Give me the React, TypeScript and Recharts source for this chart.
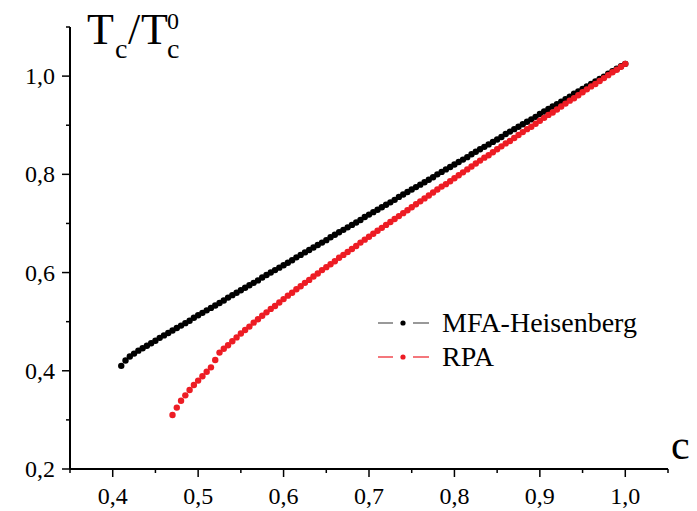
import { ScatterChart, Scatter, XAxis, YAxis, Legend } from "recharts"

const concentration = [
  0.41, 0.415, 0.42, 0.425, 0.43, 0.435, 0.44, 0.445, 0.45, 0.455,
  0.46, 0.465, 0.47, 0.475, 0.48, 0.485, 0.49, 0.495, 0.5, 0.505,
  0.51, 0.515, 0.52, 0.525, 0.53, 0.535, 0.54, 0.545, 0.55, 0.555,
  0.56, 0.565, 0.57, 0.575, 0.58, 0.585, 0.59, 0.595, 0.6, 0.605,
  0.61, 0.615, 0.62, 0.625, 0.63, 0.635, 0.64, 0.645, 0.65, 0.655,
  0.66, 0.665, 0.67, 0.675, 0.68, 0.685, 0.69, 0.695, 0.7, 0.705,
  0.71, 0.715, 0.72, 0.725, 0.73, 0.735, 0.74, 0.745, 0.75, 0.755,
  0.76, 0.765, 0.77, 0.775, 0.78, 0.785, 0.79, 0.795, 0.8, 0.805,
  0.81, 0.815, 0.82, 0.825, 0.83, 0.835, 0.84, 0.845, 0.85, 0.855,
  0.86, 0.865, 0.87, 0.875, 0.88, 0.885, 0.89, 0.895, 0.9, 0.905,
  0.91, 0.915, 0.92, 0.925, 0.93, 0.935, 0.94, 0.945, 0.95, 0.955,
  0.96, 0.965, 0.97, 0.975, 0.98, 0.985, 0.99, 0.995, 1.0,
]

// MFA-Heisenberg, starts at c = 0.41
const tcMfa = [
  0.410, 0.421, 0.429, 0.435, 0.441, 0.446, 0.451, 0.456, 0.461, 0.467,
  0.472, 0.477, 0.482, 0.487, 0.492, 0.497, 0.502, 0.508, 0.513, 0.518,
  0.523, 0.528, 0.533, 0.538, 0.543, 0.549, 0.554, 0.559, 0.564, 0.569,
  0.574, 0.579, 0.584, 0.590, 0.595, 0.600, 0.605, 0.610, 0.615, 0.620,
  0.625, 0.631, 0.636, 0.641, 0.646, 0.651, 0.656, 0.661, 0.666, 0.672,
  0.677, 0.682, 0.687, 0.692, 0.697, 0.702, 0.707, 0.713, 0.718, 0.723,
  0.728, 0.733, 0.738, 0.743, 0.748, 0.754, 0.759, 0.764, 0.769, 0.774,
  0.779, 0.784, 0.789, 0.794, 0.800, 0.805, 0.810, 0.815, 0.820, 0.825,
  0.830, 0.835, 0.841, 0.846, 0.851, 0.856, 0.861, 0.866, 0.871, 0.876,
  0.882, 0.887, 0.892, 0.897, 0.902, 0.907, 0.912, 0.917, 0.923, 0.928,
  0.933, 0.938, 0.943, 0.948, 0.953, 0.958, 0.964, 0.969, 0.974, 0.979,
  0.984, 0.989, 0.994, 0.999, 1.005, 1.010, 1.015, 1.020, 1.025,
]

// RPA, starts at c = 0.47
const tcRpa = [
  0.310, 0.325, 0.339, 0.350, 0.361, 0.371, 0.380, 0.389,
  0.398, 0.407, 0.422, 0.437, 0.445, 0.452, 0.460, 0.468, 0.476, 0.483,
  0.490, 0.498, 0.505, 0.512, 0.519, 0.526, 0.532, 0.539, 0.546, 0.553,
  0.559, 0.566, 0.572, 0.579, 0.585, 0.592, 0.598, 0.605, 0.611, 0.617,
  0.623, 0.630, 0.636, 0.642, 0.648, 0.654, 0.661, 0.667, 0.673, 0.679,
  0.685, 0.691, 0.697, 0.703, 0.709, 0.715, 0.721, 0.727, 0.733, 0.739,
  0.745, 0.751, 0.757, 0.763, 0.769, 0.775, 0.780, 0.786, 0.792, 0.798,
  0.804, 0.810, 0.816, 0.822, 0.828, 0.834, 0.839, 0.845, 0.851, 0.857,
  0.863, 0.868, 0.874, 0.880, 0.886, 0.892, 0.897, 0.903, 0.909, 0.915,
  0.921, 0.926, 0.932, 0.938, 0.944, 0.950, 0.955, 0.961, 0.967, 0.973,
  0.979, 0.984, 0.990, 0.996, 1.002, 1.008, 1.013, 1.019, 1.025,
]

const xTicks = [0.35, 0.4, 0.45, 0.5, 0.55, 0.6, 0.65, 0.7, 0.75, 0.8, 0.85, 0.9, 0.95, 1.0, 1.05]
const yTicks = [0.2, 0.3, 0.4, 0.5, 0.6, 0.7, 0.8, 0.9, 1.0, 1.1]

const mfaData = concentration.map((c, i) => ({ c, t: tcMfa[i] }))
const rpaConc = concentration.slice(concentration.length - tcRpa.length)
const rpaData = rpaConc.map((c, i) => ({ c, t: tcRpa[i] }))

const FONT = '"Liberation Serif", "Times New Roman", serif'
const RED = "#ed1c24"

const fmt = (v: number) => v.toFixed(1).replace(".", ",")

function XTick({ x, y, payload }: any) {
  const v = payload.value
  const major = Math.abs(Math.round(v * 10) - v * 10) < 1e-6
  return (
    <g>
      <line x1={x} y1={y} x2={x} y2={y + (major ? 8 : 4)} stroke="#000" strokeWidth={1.5} />
      {major && (
        <text x={x} y={y + 35} textAnchor="middle" fontFamily={FONT} fontSize={24} fill="#000">
          {fmt(v)}
        </text>
      )}
    </g>
  )
}

function YTick({ x, y, payload }: any) {
  const v = payload.value
  const major = Math.round(v * 10) % 2 === 0
  return (
    <g>
      <line x1={x} y1={y} x2={x - (major ? 8 : 4)} y2={y} stroke="#000" strokeWidth={1.5} />
      {major && (
        <text x={x - 15} y={y + 8} textAnchor="end" fontFamily={FONT} fontSize={24} fill="#000">
          {fmt(v)}
        </text>
      )}
    </g>
  )
}

const dot = (color: string) => (props: any) =>
  <circle cx={props.cx} cy={props.cy} r={3.2} fill={color} stroke="none" />

function LegendBox({ payload }: any) {
  return (
    <div style={{ fontFamily: FONT, fontSize: 28, color: "#000" }}>
      {(payload || []).map((entry: any) => {
        const lineColor = entry.color === "#000" ? "#555" : entry.color
        return (
          <div key={entry.value} style={{ display: "flex", alignItems: "center", height: 34, lineHeight: "34px" }}>
            <svg width={53} height={10} style={{ marginRight: 12 }}>
              <line x1={1} y1={5} x2={16} y2={5} stroke={lineColor} strokeWidth={1.2} />
              <circle cx={26} cy={5} r={2.6} fill={entry.color} />
              <line x1={36} y1={5} x2={52} y2={5} stroke={lineColor} strokeWidth={1.2} />
            </svg>
            <span>{entry.value}</span>
          </div>
        )
      })}
    </div>
  )
}

export default function App() {
  return (
    <div style={{ position: "absolute", left: 0, top: 0, width: 697, height: 511, background: "#fff" }}>
      <ScatterChart width={697} height={511} margin={{ top: 27, right: 29, bottom: 0, left: 0 }}>
        <XAxis
          type="number"
          dataKey="c"
          domain={[0.35, 1.05]}
          ticks={xTicks}
          interval={0}
          height={42}
          tickSize={0}
          tickMargin={0}
          tick={<XTick />}
          axisLine={{ stroke: "#000", strokeWidth: 2 }}
          allowDataOverflow
        />
        <YAxis
          type="number"
          dataKey="t"
          domain={[0.2, 1.1]}
          ticks={yTicks}
          interval={0}
          width={70}
          tickSize={0}
          tickMargin={0}
          tick={<YTick />}
          axisLine={{ stroke: "#000", strokeWidth: 2 }}
          allowDataOverflow
        />
        <Legend
          layout="horizontal"
          verticalAlign="middle"
          align="center"
          content={<LegendBox />}
          wrapperStyle={{ left: 377, top: 306, width: 300 }}
        />
        <Scatter name="MFA-Heisenberg" data={mfaData} fill="#000" shape={dot("#000")} isAnimationActive={false} />
        <Scatter name="RPA" data={rpaData} fill={RED} shape={dot(RED)} isAnimationActive={false} />
      </ScatterChart>
      <svg
        width={697}
        height={511}
        style={{ position: "absolute", left: 0, top: 0, pointerEvents: "none" }}
        fontFamily={FONT}
        fill="#000"
      >
        {/* y-axis title T_c / T_c^0 as one text element */}
        <text fontSize={44}>
          <tspan x={87} y={44}>T</tspan>
          <tspan x={115} y={58} fontSize={28}>c</tspan>
          <tspan x={128} y={44}>/</tspan>
          <tspan x={141} y={44}>T</tspan>
          <tspan x={167} y={58} fontSize={28}>c</tspan>
          <tspan x={167} y={29} fontSize={24}>0</tspan>
        </text>
        <text x={671} y={459} fontSize={42}>c</text>
      </svg>
    </div>
  )
}
